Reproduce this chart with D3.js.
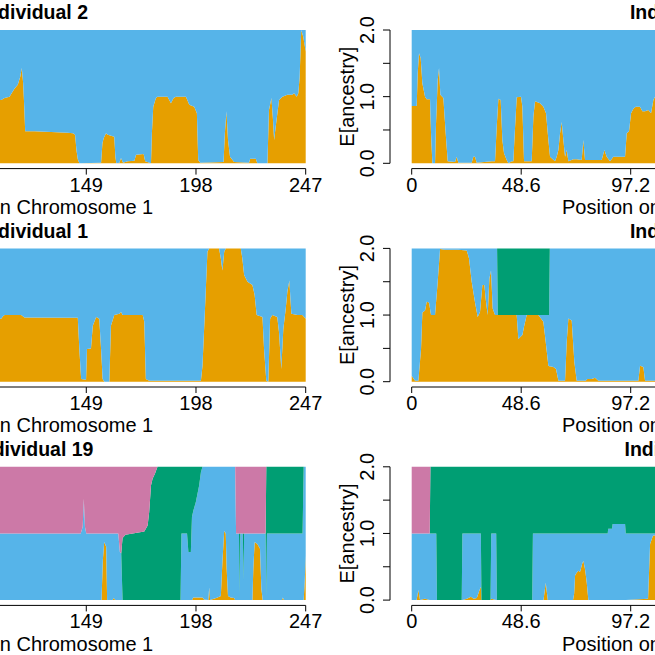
<!DOCTYPE html>
<html><head><meta charset="utf-8">
<script src="https://cdn.jsdelivr.net/npm/d3@7"></script>
<style>body{margin:0;background:#fff}svg{display:block}text{font-family:"Liberation Sans",Arial,Helvetica,sans-serif;fill:#000}</style>
</head><body><svg id="c" width="655" height="655"></svg>
<script>
// ---------- axis ticks ----------
const chr1Ticks = [0, 49, 98, 149, 198, 247];
const chr1TickLabels = ["0", "49", "98", "149", "198", "247"];
const chr2Ticks = [0, 48.6, 97.2, 145.8, 194.4, 243];
const chr2TickLabels = ["0", "48.6", "97.2", "145.8", "194.4", "243"];
const yTicks = [0, 0.5, 1, 1.5, 2];
const yTickLabels = ["0.0", "", "1.0", "", "2.0"];
const ancestryKeys = ["orange", "blue", "green", "pink"];

// ---------- Chromosome 1, Individual 2 ----------
const chr1Ind2Pos = [108,111.0,112.5,114.7,116.9,118.4,119.5,120.2,120.8,121.3,121.7,125.9,133.3,140.7,143.0,144.0,144.6,145.2,145.9,155.6,156.2,156.8,157.8,158.6,161.5,162.0,162.4,163.8,164.5,165.4,167.5,170.5,171.2,174.6,175.3,177.9,178.3,178.9,180.1,180.8,185.3,186.8,188.0,189.0,193.5,195.0,197.2,198.4,199.0,199.9,210.3,210.9,211.6,212.3,213.2,215.0,221.7,222.2,224.7,225.4,229.9,230.6,231.7,232.4,232.9,233.6,235.1,236.6,238.8,241.0,241.8,243.0,243.7,244.3,245.0,245.9,247.0];
const chr1Ind2Orange = [0.95,0.95,0.98,1.0,1.12,1.18,1.3,1.43,1.2,0.85,0.48,0.48,0.47,0.46,0.45,0.43,0.2,0.06,0,0.01,0.3,0.38,0.45,0.43,0.4,0.1,0,0.01,0.08,0.01,0.03,0.04,0.13,0.14,0.03,0,0.45,0.85,0.98,1.0,1.0,0.9,0.98,1.0,1.0,0.88,0.85,0.75,0.05,0.01,0.02,0.45,0.78,0.35,0.1,0.02,0.01,0.07,0.07,0,0,0.8,0.98,0.65,0.35,0.55,0.95,1.0,1.03,1.03,1.05,1.0,1.05,1.3,2.0,1.9,1.68];
const chr1Ind2Blue = [1.05,1.05,1.02,1.0,0.88,0.82,0.7,0.57,0.8,1.15,1.52,1.52,1.53,1.54,1.55,1.57,1.8,1.94,2,1.99,1.7,1.62,1.55,1.57,1.6,1.9,2,1.99,1.92,1.99,1.97,1.96,1.87,1.86,1.97,2,1.55,1.15,1.02,1.0,1.0,1.1,1.02,1.0,1.0,1.12,1.15,1.25,1.95,1.99,1.98,1.55,1.22,1.65,1.9,1.98,1.99,1.93,1.93,2,2,1.2,1.02,1.35,1.65,1.45,1.05,1.0,0.97,0.97,0.95,1.0,0.95,0.7,0,0.1,0.32];

// ---------- Chromosome 1, Individual 1 ----------
const chr1Ind1Pos = [108,111.0,111.7,112.5,119.9,121.4,145.2,145.9,146.7,148.9,149.3,151.1,151.9,153.4,154.8,155.6,156.3,157.1,159.3,160.0,161.5,163.8,164.5,165.2,174.2,174.9,175.6,177.1,200.2,200.9,201.9,203.1,203.9,208.3,209.1,209.8,210.6,211.3,218.0,218.7,219.5,221.0,223.2,224.2,225.1,227.7,228.4,229.4,230.3,231.1,232.1,234.3,235.1,236.1,237.0,238.1,238.8,239.7,240.6,243.3,245.5,247.0];
const chr1Ind1Orange = [0.95,0.945,0.98,1.0,1.0,0.965,0.96,0.49,0.04,0.03,0.49,0.5,0.84,0.97,0.945,0.49,0.04,0,0,0.84,1.0,1.02,1.05,1.0,1.0,0.9,0.04,0.015,0.015,0.24,1.0,1.95,2.0,2.0,1.85,1.67,1.95,2.0,2.0,1.85,1.6,1.5,1.45,1.3,1.0,0.97,0.49,0.015,0,0.945,1.0,0.97,0.74,0.19,0.79,1.1,1.35,1.52,1.02,1.0,1.0,0.945];
const chr1Ind1Blue = [1.05,1.055,1.02,1.0,1.0,1.035,1.04,1.51,1.96,1.97,1.51,1.5,1.16,1.03,1.055,1.51,1.96,2,2,1.16,1.0,0.98,0.95,1.0,1.0,1.1,1.96,1.985,1.985,1.76,1.0,0.05,0,0,0.15,0.33,0.05,0,0,0.15,0.4,0.5,0.55,0.7,1.0,1.03,1.51,1.985,2,1.055,1.0,1.03,1.26,1.81,1.21,0.9,0.65,0.48,0.98,1.0,1.0,1.055];

// ---------- Chromosome 1, Individual 19 ----------
const chr1Ind19Pos = [108,146.5,147.4,147.9,148.4,149.0,155.8,156.4,157.0,157.9,158.3,160.8,161.2,162.0,163.3,164.0,164.6,165.2,166.5,174.9,176.4,177.1,177.9,178.6,179.7,180.8,191.1,191.5,194.0,194.6,195.7,196.2,196.8,197.9,199.4,200.2,200.9,201.6,203.5,203.9,204.3,207.6,209.1,209.8,210.6,211.3,211.7,212.3,213.5,215.0,215.5,215.9,217.2,217.5,217.8,218.9,219.2,219.5,223.2,223.6,224.2,225.4,226.6,227.2,227.8,229.1,229.4,229.7,236.4,236.8,237.3,245.6,246.1,246.6,247.0];
const chr1Ind19Orange = [0,0,0,0,0,0,0,0.6,0.87,0.8,0,0,0.03,0,0,0,0,0,0,0,0,0,0,0,0,0,0,0,0,0,0,0,0.04,0.04,0.04,0.04,0.04,0.01,0,0.19,0,0.04,0.06,0.57,1.04,1.0,0.47,0.06,0.04,0.03,0,0,0,0,0,0,0,0,0,0.47,0.87,0.84,0.77,0.17,0,0,0,0,0,0.04,0,0,0,0.3,0.67];
const chr1Ind19Blue = [1,1,1.1,1.52,1.1,1,1,0.4,0.13,0.2,1,1,0.97,1,1,0.72,0.7,0,0,0,0,0,0,0,0,0,0,1,1,0.72,0.72,1.25,1.3,1.43,1.68,1.88,1.96,1.99,2,1.81,2,1.96,1.94,1.43,0.96,1.0,1.53,1.94,1.96,1.97,2,1,1,0.1,1,1,0.3,1,1,0.53,0.13,0.16,0.23,0.83,1,1,0.05,1,1,0.96,1,1,2,1.7,1.33];
const chr1Ind19Green = [0,0,0,0,0,0,0,0,0,0,0,0,0,0,0,0,0,0.93,0.98,1.03,1.12,1.32,1.72,1.82,1.9,2,2,1,1,1.28,1.28,0.75,0.66,0.53,0.28,0.08,0,0,0,0,0,0,0,0,0,0,0,0,0,0,0,0,0,0.9,0,0,0.7,0,0,0,0,0,0,0,0,0,1.95,1,1,1,1,1,0,0,0];
const chr1Ind19Pink = [1,1,0.9,0.48,0.9,1,1,1,1,1,1,1,1,1,1,1.28,1.3,1.07,1.02,0.97,0.88,0.68,0.28,0.18,0.1,0,0,0,0,0,0,0,0,0,0,0,0,0,0,0,0,0,0,0,0,0,0,0,0,0,0,1,1,1,1,1,1,1,1,1,1,1,1,1,1,1,0,0,0,0,0,0,0,0,0];

// ---------- Chromosome 2, Individual 2 ----------
const chr2Ind2Pos = [0,2.22,2.66,3.25,3.99,4.73,5.92,6.66,8.14,8.58,9.17,10.36,10.80,11.54,12.13,12.72,14.06,15.09,15.98,19.23,19.97,20.71,26.63,27.37,28.11,28.85,35.51,36.99,37.73,38.47,39.50,40.24,40.98,42.17,42.91,44.39,45.12,45.57,46.60,48.53,49.12,49.86,53.26,54.00,54.74,56.96,58.44,59.62,60.66,61.40,63.62,64.36,65.10,65.84,66.58,67.32,68.06,68.80,69.54,71.76,73.24,75.45,76.19,76.93,79.89,84.33,85.52,86.55,88.03,89.51,94.69,95.43,96.46,97.35,98.39,99.42,101.34,102.38,103.57,105.04,106.23,107.26,108.0,112];
const chr2Ind2Orange = [0.86,0.86,1.35,1.65,1.58,1.2,1.0,0.96,0.96,0.45,0,0,0.6,1.25,1.43,1.03,0.98,0.45,0.03,0.02,0.1,0.01,0.01,0.1,0.1,0.01,0.03,0.03,0.55,0.97,0.95,0.35,0.15,0.05,0,0.03,0.03,0.35,0.99,1.0,0.85,0.03,0.03,0.7,0.93,0.9,0.85,0.75,0.35,0.1,0.03,0.1,0.2,0.45,0.62,0.35,0.1,0.2,0.03,0.06,0.06,0.05,0.35,0.05,0.05,0.05,0.2,0.1,0.03,0.1,0.1,0.45,0.48,0.75,0.82,0.85,0.85,0.78,0.78,0.8,0.75,0.95,1.0,1.0];
const chr2Ind2Blue = [1.14,1.14,0.65,0.35,0.42,0.8,1.0,1.04,1.04,1.55,2,2,1.4,0.75,0.57,0.97,1.02,1.55,1.97,1.98,1.9,1.99,1.99,1.9,1.9,1.99,1.97,1.97,1.45,1.03,1.05,1.65,1.85,1.95,2,1.97,1.97,1.65,1.01,1.0,1.15,1.97,1.97,1.3,1.07,1.1,1.15,1.25,1.65,1.9,1.97,1.9,1.8,1.55,1.38,1.65,1.9,1.8,1.97,1.94,1.94,1.95,1.65,1.95,1.95,1.95,1.8,1.9,1.97,1.9,1.9,1.55,1.52,1.25,1.18,1.15,1.15,1.22,1.22,1.2,1.25,1.05,1.0,1.0];

// ---------- Chromosome 2, Individual 1 ----------
const chr2Ind1Pos = [0,1.48,2.96,4.14,4.73,5.92,6.66,7.69,8.58,10.36,11.54,12.58,14.80,20.71,24.41,25.45,26.63,28.11,29.29,30.33,31.37,32.25,32.84,33.73,34.47,35.21,35.95,36.99,37.9,38.2,46.60,47.34,49.12,50.01,51.04,56.22,58.44,59.47,60.66,61.0,61.3,62.88,64.06,65.10,68.06,68.80,69.54,71.02,72.20,73.24,77.23,77.97,79.89,81.37,82.85,100.6,101.34,102.82,103.57,112];
const chr2Ind1Orange = [0.09,0.015,0.015,0.49,1.04,1.07,1.2,1.19,1.0,1.0,1.5,1.99,1.98,1.98,1.97,1.85,1.5,1.19,0.97,1.05,1.45,1.45,1.24,1.0,1.55,1.67,1.1,1.0,1.0,1.0,1.0,0.64,0.7,0.85,1.0,1.0,0.9,0.6,0.24,0.23,0.23,0.22,0.19,0.015,0.015,0.6,0.95,0.92,0.29,0.015,0.015,0.04,0.04,0.06,0.015,0.015,0.24,0.22,0.015,0.015];
const chr2Ind1Blue = [1.91,1.985,1.985,1.51,0.96,0.93,0.8,0.81,1.0,1.0,0.5,0.01,0.02,0.02,0.03,0.15,0.5,0.81,1.03,0.95,0.55,0.55,0.76,1.0,0.45,0.33,0.9,1.0,1.0,0,0,0.36,0.3,0.15,0,0,0.1,0.4,0.76,0.77,1.77,1.78,1.81,1.985,1.985,1.4,1.05,1.08,1.71,1.985,1.985,1.96,1.96,1.94,1.985,1.985,1.76,1.78,1.985,1.985];
const chr2Ind1Green = [0,0,0,0,0,0,0,0,0,0,0,0,0,0,0,0,0,0,0,0,0,0,0,0,0,0,0,0,0,1,1,1,1,1,1,1,1,1,1,1,0,0,0,0,0,0,0,0,0,0,0,0,0,0,0,0,0,0,0,0];

// ---------- Chromosome 2, Individual 19 ----------
const chr2Ind19Pos = [0,2.2,2.96,3.7,5.9,8.0,8.3,10.9,11.2,22.2,22.5,24.5,26.3,27.5,28.9,30.5,30.7,30.95,35.0,35.3,37.5,37.8,53.5,53.8,58.5,59.5,60.4,71.6,72.1,72.5,73.2,74.0,74.7,75.7,76.2,77.0,77.7,78.4,87.0,87.2,88.9,89.2,94.7,95.0,104.9,105.8,107.1,112];
const chr2Ind19Orange = [0,0,0.15,0,0.02,0,0,0,0,0,0,0.02,0.05,0.02,0.03,0.19,0.19,0,0,0.02,0,0,0,0,0,0.26,0,0,0.1,0.37,0.41,0.44,0.42,0.55,0.59,0.45,0.26,0,0,0,0,0,0,0,0.02,0.84,0.97,0.97];
const chr2Ind19Blue = [1,1,0.85,1,0.98,1,1,1,0,0,1,0.98,0.95,0.98,0.97,0.81,0.81,0,0,0.98,1,0,0,1,1,0.74,1,1,0.9,0.63,0.59,0.56,0.58,0.45,0.41,0.55,0.74,1,1,1.07,1.07,1.14,1.14,1,0.98,0.16,0.03,0.03];
const chr2Ind19Green = [0,0,0,0,0,0,1,1,2,2,1,1,1,1,1,1,1,2,2,1,1,2,2,1,1,1,1,1,1,1,1,1,1,1,1,1,1,1,1,0.93,0.93,0.86,0.86,1,1,1,1,1];
const chr2Ind19Pink = [1,1,1,1,1,1,0,0,0,0,0,0,0,0,0,0,0,0,0,0,0,0,0,0,0,0,0,0,0,0,0,0,0,0,0,0,0,0,0,0,0,0,0,0,0,0,0,0];

// ---------- layout ----------
const palette = {orange: "#E69F00", blue: "#56B4E9", green: "#009E73", pink: "#CC79A7"};
const columns = [
  {x0: -247.3, x1: 305.7, domain: [0, 247], ticks: chr1Ticks, labels: chr1TickLabels, xlab: "Position on Chromosome 1", titleCx: 34.4, xlabCx: 32.6},
  {x0: 411.7, x1: 959.2, domain: [0, 243], ticks: chr2Ticks, labels: chr2TickLabels, xlab: "Position on Chromosome 2", titleCx: 683.6, xlabCx: 682.6}
];
const panels = [
  {row: 0, col: 0, title: "Individual 2", pos: chr1Ind2Pos, series: {orange: chr1Ind2Orange, blue: chr1Ind2Blue}},
  {row: 0, col: 1, title: "Individual 2", pos: chr2Ind2Pos, series: {orange: chr2Ind2Orange, blue: chr2Ind2Blue}},
  {row: 1, col: 0, title: "Individual 1", pos: chr1Ind1Pos, series: {orange: chr1Ind1Orange, blue: chr1Ind1Blue}},
  {row: 1, col: 1, title: "Individual 1", pos: chr2Ind1Pos, series: {orange: chr2Ind1Orange, blue: chr2Ind1Blue, green: chr2Ind1Green}},
  {row: 2, col: 0, title: "Individual 19", pos: chr1Ind19Pos, series: {orange: chr1Ind19Orange, blue: chr1Ind19Blue, green: chr1Ind19Green, pink: chr1Ind19Pink}},
  {row: 2, col: 1, title: "Individual 19", pos: chr2Ind19Pos, series: {orange: chr2Ind19Orange, blue: chr2Ind19Blue, green: chr2Ind19Green, pink: chr2Ind19Pink}}
];
const rowTop = r => 30 + r * 218.4;
const plotH = 133.3;

const svg = d3.select("#c");

panels.forEach(p => {
  const c = columns[p.col];
  const top = rowTop(p.row), bottom = top + plotH;
  const x = d3.scaleLinear().domain(c.domain).range([c.x0, c.x1]);
  const y = d3.scaleLinear().domain([0, 2]).range([bottom, top]);
  const keys = ancestryKeys.filter(k => p.series[k]);
  const rows = p.pos.map((v, i) => {
    const o = {pos: v};
    keys.forEach(k => o[k] = p.series[k][i]);
    return o;
  });
  const stacked = d3.stack().keys(keys)(rows);
  const area = d3.area()
    .x(d => x(d.data.pos))
    .y0(d => y(d[0]))
    .y1(d => y(d[1]))
    .curve(d3.curveLinear);
  const g = svg.append("g");
  g.selectAll("path.layer").data(stacked).join("path")
    .attr("class", "layer")
    .attr("d", area)
    .attr("fill", d => palette[d.key]);

  // x axis
  const ax = svg.append("g").attr("transform", `translate(0,${bottom + 5.3})`);
  ax.append("line").attr("x1", x(c.ticks[0])).attr("x2", x(c.ticks[c.ticks.length - 1]))
    .attr("stroke", "#000").attr("stroke-width", 1);
  c.ticks.forEach((t, i) => {
    ax.append("line").attr("x1", x(t)).attr("x2", x(t)).attr("y1", 0).attr("y2", 6)
      .attr("stroke", "#000").attr("stroke-width", 1);
    ax.append("text").attr("x", x(t)).attr("y", 23).attr("text-anchor", "middle")
      .attr("font-size", 20).text(c.labels[i]);
  });
  svg.append("text").attr("x", c.xlabCx).attr("y", bottom + 50.5).attr("text-anchor", "middle")
    .attr("font-size", 20).text(c.xlab);

  // y axis
  const axX = c.x0 - 21.7;
  const ay = svg.append("g");
  ay.append("line").attr("x1", axX).attr("x2", axX).attr("y1", y(0)).attr("y2", y(2))
    .attr("stroke", "#000").attr("stroke-width", 1);
  yTicks.forEach((t, i) => {
    ay.append("line").attr("x1", axX - 7).attr("x2", axX).attr("y1", y(t)).attr("y2", y(t))
      .attr("stroke", "#000").attr("stroke-width", 1);
    if (yTickLabels[i]) {
      ay.append("text").attr("transform", `translate(${c.x0 - 37.7},${y(t)}) rotate(-90)`)
        .attr("text-anchor", "middle").attr("font-size", 20).text(yTickLabels[i]);
    }
  });
  svg.append("text").attr("transform", `translate(${c.x0 - 58.2},${(top + bottom) / 2}) rotate(-90)`)
    .attr("text-anchor", "middle").attr("font-size", 20).text("E[ancestry]");

  // title
  svg.append("text").attr("x", c.titleCx).attr("y", top - 10.7).attr("text-anchor", "middle")
    .attr("font-size", 19.5).attr("font-weight", "bold").text(p.title);
});
</script>
</body></html>
